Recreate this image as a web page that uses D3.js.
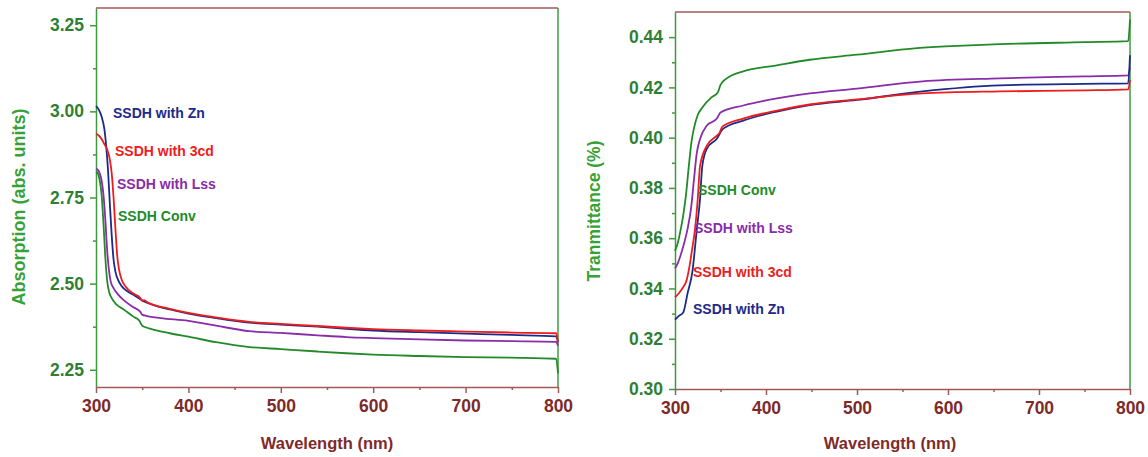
<!DOCTYPE html>
<html>
<head>
<meta charset="utf-8">
<script src="https://cdn.jsdelivr.net/npm/d3@7/dist/d3.min.js"></script>
<style>
  html, body { margin: 0; padding: 0; background: #ffffff; }
  svg { display: block; font-family: "Liberation Sans", Arial, sans-serif; }
</style>
</head>
<body>
<svg id="chart" width="1148" height="457"></svg>
<script>
// ---- Absorption spectra (wavelength nm, absorbance) ----
const absZn = [[300,3.015],[303,3.005],[306,2.985],[309,2.95],[311,2.90],[313,2.83],[315,2.73],[317,2.64],[319,2.57],[321,2.535],[324,2.51],[328,2.492],[335,2.476],[342,2.465],[348,2.455],[352,2.448],[360,2.44],[380,2.425],[400,2.413],[430,2.40],[466,2.387],[500,2.381],[540,2.375],[571,2.369],[600,2.364],[650,2.359],[700,2.355],[750,2.351],[798,2.347],[800,2.33]];
const abs3cd = [[300,2.935],[303,2.93],[306,2.92],[309,2.905],[312,2.89],[315,2.86],[317,2.82],[319,2.75],[321,2.66],[323,2.58],[325,2.54],[328,2.51],[332,2.492],[340,2.472],[348,2.458],[350,2.45],[352,2.452],[356,2.445],[380,2.427],[400,2.415],[430,2.402],[466,2.389],[500,2.383],[540,2.377],[571,2.372],[600,2.368],[650,2.364],[700,2.361],[750,2.358],[798,2.356],[800,2.33]];
const absLss = [[300,2.833],[302,2.83],[304,2.82],[306,2.80],[308,2.76],[310,2.69],[312,2.60],[314,2.54],[316,2.505],[319,2.487],[324,2.468],[330,2.452],[340,2.432],[348,2.418],[350,2.41],[355,2.406],[370,2.40],[400,2.392],[430,2.378],[466,2.362],[500,2.357],[540,2.35],[571,2.345],[600,2.342],[650,2.338],[700,2.335],[750,2.333],[798,2.331],[800,2.32]];
const absConv = [[300,2.825],[302,2.82],[304,2.80],[306,2.76],[308,2.68],[310,2.58],[312,2.51],[314,2.478],[317,2.458],[322,2.44],[330,2.425],[340,2.405],[347,2.392],[350,2.378],[353,2.374],[360,2.368],[380,2.356],[400,2.346],[430,2.33],[466,2.316],[500,2.31],[540,2.303],[571,2.298],[600,2.294],[650,2.29],[700,2.287],[750,2.285],[798,2.282],[800,2.24]];

// ---- Transmittance spectra (wavelength nm, fraction) ----
const trZn = [[300,0.3276],[304,0.329],[309,0.3304],[314,0.3384],[319,0.3464],[324,0.3636],[327.5,0.3756],[330,0.3888],[335,0.3956],[346,0.3996],[353,0.4036],[375,0.4068],[412,0.4104],[448,0.413],[500,0.415],[572,0.4184],[657,0.4208],[750,0.4214],[798,0.4216],[800,0.4328]];
const tr3cd = [[300,0.3365],[304,0.338],[308,0.340],[313,0.3436],[316,0.349],[319,0.356],[322,0.3636],[325,0.3756],[327.5,0.3888],[335,0.3968],[346,0.4008],[349,0.402],[352,0.4044],[375,0.4076],[412,0.4108],[448,0.4132],[500,0.4152],[572,0.4176],[657,0.4184],[750,0.4188],[798,0.4192],[800,0.423]];
const trLss = [[300,0.348],[303,0.350],[306,0.353],[310,0.358],[314,0.364],[318,0.373],[321,0.384],[324,0.394],[328,0.400],[335,0.4048],[346,0.4076],[350,0.410],[375,0.4128],[412,0.4156],[448,0.4176],[500,0.4195],[572,0.4224],[657,0.4236],[750,0.4244],[798,0.4248],[800,0.428]];
const trConv = [[300,0.355],[303,0.358],[306,0.363],[309,0.369],[312,0.377],[315,0.388],[318,0.398],[321,0.404],[325,0.409],[330,0.412],[340,0.416],[347,0.418],[350,0.421],[357,0.4236],[375,0.4264],[412,0.4288],[448,0.431],[500,0.433],[566,0.4356],[610,0.4365],[657,0.4372],[750,0.438],[798,0.4384],[800,0.447]];

// ---- Axis ticks and labels ----
const xMajor = [300, 400, 500, 600, 700, 800];
const xMinor = [350, 450, 550, 650, 750];
const absMajor = [2.25, 2.50, 2.75, 3.00, 3.25];
const absMinor = [2.375, 2.625, 2.875, 3.125];
const trMajor = [0.30, 0.32, 0.34, 0.36, 0.38, 0.40, 0.42, 0.44];
const trMinor = [0.31, 0.33, 0.35, 0.37, 0.39, 0.41, 0.43];

const seriesNames = ["SSDH with Zn", "SSDH with 3cd", "SSDH with Lss", "SSDH Conv"];
const seriesColors = ["#1c2a8a", "#ee1c1c", "#8a2ca8", "#238a2a"];

const greenAxis = "#3f9a3f", greenText = "#2f7f33", greenTitle = "#36a236";
const redAxis = "#a35858", redText = "#7e2a2a";

const svg = d3.select("#chart");

function panel(opts) {
  const x = d3.scaleLinear().domain([300, 800]).range([opts.left, opts.right]);
  const y = d3.scaleLinear().domain(opts.yDomain).range([opts.bottom, opts.top]);
  const g = svg.append("g");

  // frame: top (brown-red) and right (green) edges
  g.append("line").attr("x1", opts.left).attr("x2", opts.right)
    .attr("y1", opts.top).attr("y2", opts.top)
    .attr("stroke", redAxis).attr("stroke-width", 1.5);
  g.append("line").attr("x1", opts.right).attr("x2", opts.right)
    .attr("y1", opts.top).attr("y2", opts.bottom)
    .attr("stroke", greenAxis).attr("stroke-width", 1.5);

  // x axis
  const xa = g.append("g").attr("transform", `translate(0,${opts.bottom})`)
    .call(d3.axisBottom(x).tickValues(xMajor).tickSize(6).tickSizeOuter(0).tickPadding(6).tickFormat(d3.format("d")));
  g.append("g").attr("transform", `translate(0,${opts.bottom})`)
    .call(d3.axisBottom(x).tickValues(xMinor).tickSize(3).tickSizeOuter(0).tickFormat(""))
    .call(s => s.select(".domain").remove())
    .selectAll("line").attr("stroke", redAxis).attr("stroke-width", 1.5);
  xa.select(".domain").attr("stroke", redAxis).attr("stroke-width", 1.5);
  xa.selectAll(".tick line").attr("stroke", redAxis).attr("stroke-width", 1.5);
  xa.selectAll("text").attr("fill", redText).attr("font-size", 17.5)
    .attr("font-weight", "bold").attr("dy", "0.72em");

  // y axis
  const ya = g.append("g").attr("transform", `translate(${opts.left},0)`)
    .call(d3.axisLeft(y).tickValues(opts.yMajor).tickSize(6).tickSizeOuter(0).tickPadding(6).tickFormat(d3.format(".2f")));
  g.append("g").attr("transform", `translate(${opts.left},0)`)
    .call(d3.axisLeft(y).tickValues(opts.yMinor).tickSize(3).tickSizeOuter(0).tickFormat(""))
    .call(s => s.select(".domain").remove())
    .selectAll("line").attr("stroke", greenAxis).attr("stroke-width", 1.5);
  ya.select(".domain").attr("stroke", greenAxis).attr("stroke-width", 1.5);
  ya.selectAll(".tick line").attr("stroke", greenAxis).attr("stroke-width", 1.5);
  ya.selectAll("text").attr("fill", greenText).attr("font-size", 17.5).attr("font-weight", "bold");

  // axis titles
  g.append("text").text("Wavelength (nm)")
    .attr("x", opts.xTitleX).attr("y", opts.xTitleY).attr("text-anchor", "middle")
    .attr("fill", redText).attr("font-size", 16.5).attr("font-weight", "bold");
  g.append("text").text(opts.yTitle)
    .attr("transform", `translate(${opts.yTitleX},${opts.yTitleY}) rotate(-90)`)
    .attr("text-anchor", "middle").attr("dy", "0.35em")
    .attr("fill", greenTitle).attr("font-size", opts.yTitleSize).attr("font-weight", "bold");

  // spectra
  const line = d3.line().x(d => x(d[0])).y(d => y(d[1])).curve(d3.curveMonotoneX);
  const order = [3, 2, 0, 1];
  order.forEach(i => {
    g.append("path").datum(opts.series[i])
      .attr("fill", "none").attr("stroke", seriesColors[i])
      .attr("stroke-width", 1.8).attr("stroke-linejoin", "round")
      .attr("d", line);
  });

  // curve labels
  opts.labels.forEach((p, i) => {
    g.append("text").text(seriesNames[i])
      .attr("x", p[0]).attr("y", p[1]).attr("dy", "0.35em")
      .attr("fill", seriesColors[i]).attr("font-size", 14).attr("font-weight", "bold");
  });
}

panel({
  left: 96, right: 558, top: 8, bottom: 387,
  yDomain: [2.2, 3.3], yMajor: absMajor, yMinor: absMinor,
  series: [absZn, abs3cd, absLss, absConv],
  yTitle: "Absorption (abs. units)", yTitleX: 19, yTitleY: 207, yTitleSize: 18,
  xTitleX: 327, xTitleY: 449,
  labels: [[113, 113], [115, 151], [117, 184], [118, 216]]
});

panel({
  left: 675, right: 1130, top: 12, bottom: 389,
  yDomain: [0.30, 0.45], yMajor: trMajor, yMinor: trMinor,
  series: [trZn, tr3cd, trLss, trConv],
  yTitle: "Tranmittance (%)", yTitleX: 594, yTitleY: 211, yTitleSize: 17.5,
  xTitleX: 890, xTitleY: 449,
  labels: [[693, 309], [693, 272], [694, 228], [698, 190]]
});
</script>
</body>
</html>
